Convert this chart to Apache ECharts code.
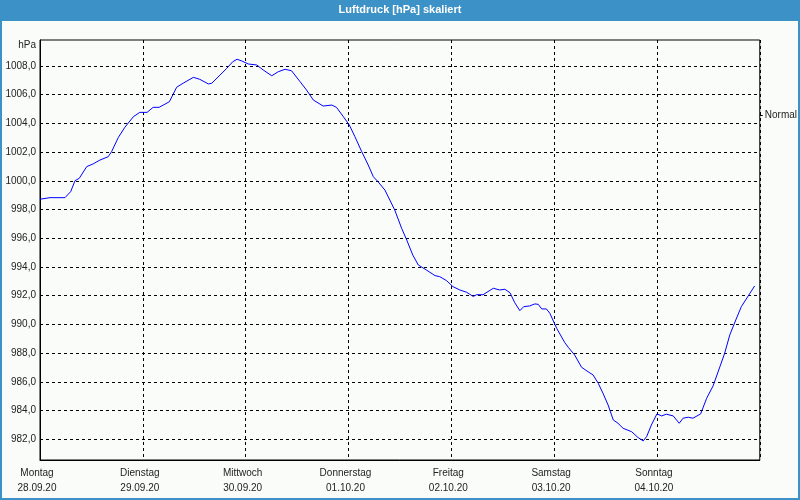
<!DOCTYPE html>
<html>
<head>
<meta charset="utf-8">
<script src="https://cdn.jsdelivr.net/npm/echarts@6/dist/echarts.min.js"></script>
<style>
html,body{margin:0;padding:0;background:#fafcfa;}
#chart{width:800px;height:500px;}
</style>
</head>
<body>
<div id="chart"></div>
<script>
// Time in hours since Montag 28.09.20 00:00
var hours = [0, 2.33, 5.83, 6.23, 7.16, 8.17, 9.17, 10.9, 12.4, 14.0, 15.9, 16.7, 18.3, 19.8, 21.8, 23.3,
  25.0, 26.4, 27.8, 30.2, 31.9, 33.4, 35.8, 37.3, 39.3, 40.1, 43.6, 45.0, 46.0, 47.1, 48.6, 50.6, 52.1, 54.1,
  55.6, 57.2, 58.7, 60.7, 62.2, 63.8, 66.1, 68.1, 69.2, 70.8, 72.2, 73.5, 75.1, 76.6, 77.8, 78.9, 80.5, 82.8,
  84.4, 85.6, 87.0, 88.3, 90.2, 92.2, 93.3, 94.9, 96.4, 98.0, 99.6, 101.1, 101.9, 103.4, 105.8, 107.3, 108.5,
  109.7, 110.8, 112.0, 112.9, 114.3, 115.5, 116.3, 117.1, 118.2, 119.0, 120.6, 122.5, 123.3, 124.8, 126.4,
  127.9, 129.1, 130.3, 131.4, 132.6, 133.8, 134.9, 136.1, 138.1, 139.6, 140.8, 141.6, 142.7, 144.0, 145.1,
  146.2, 147.8, 149.2, 150.1, 151.3, 152.4, 154.2, 155.6, 157.1, 158.7, 159.8, 161.0, 162.4, 163.7, 165.7, 166.8];
var pressure = [998.72, 998.83, 998.83, 998.79, 999.25, 1000.01, 1000.18, 1000.99, 1001.18, 1001.45, 1001.68, 1002.03, 1003.03, 1003.73, 1004.47, 1004.77,
  1004.77, 1005.12, 1005.12, 1005.51, 1006.52, 1006.80, 1007.21, 1007.07, 1006.75, 1006.80, 1007.84, 1008.30, 1008.47, 1008.35, 1008.14, 1008.07, 1007.72, 1007.32,
  1007.60, 1007.77, 1007.67, 1006.91, 1006.33, 1005.63, 1005.21, 1005.28, 1005.12, 1004.47, 1003.89, 1003.08, 1002.03, 1001.11, 1000.29, 999.94, 999.36, 997.97,
  996.70, 995.88, 994.84, 994.14, 993.79, 993.40, 993.33, 993.05, 992.63, 992.40, 992.24, 991.95, 992.07, 992.07, 992.52, 992.40, 992.45,
  992.21, 991.52, 990.96, 991.24, 991.29, 991.43, 991.40, 991.08, 991.08, 990.78, 989.73, 988.73, 988.41, 987.87, 987.02,
  986.71, 986.48, 985.90, 985.21, 984.39, 983.35, 983.12, 982.77, 982.53, 982.12, 981.89, 982.19, 983.00, 983.77, 983.63,
  983.75, 983.63, 983.12, 983.47, 983.54, 983.47, 983.77, 984.86, 985.72, 987.06, 987.99, 989.27, 990.31, 991.24, 992.17, 992.68];
var dayNames = ['Montag', 'Dienstag', 'Mittwoch', 'Donnerstag', 'Freitag', 'Samstag', 'Sonntag'];
var dayDates = ['28.09.20', '29.09.20', '30.09.20', '01.10.20', '02.10.20', '03.10.20', '04.10.20'];
var yTicks = [982, 984, 986, 988, 990, 992, 994, 996, 998, 1000, 1002, 1004, 1006, 1008];
var normalValue = [1004.59];
var normalLabel = 'Normal';
var titleText = 'Luftdruck [hPa] skaliert';
var unitText = 'hPa';

var font = 'Liberation Sans';
var chart = echarts.init(document.getElementById('chart'), null, {renderer: 'canvas'});
var seriesData = hours.map(function (h, i) { return [h, pressure[i]]; });

chart.setOption({
  backgroundColor: '#fafcfa',
  animation: false,
  grid: {left: 40, right: 40, top: 40, bottom: 40, show: true, borderColor: '#000', borderWidth: 1, backgroundColor: 'transparent'},
  graphic: [
    {type: 'rect', shape: {x: 0, y: 0, width: 800, height: 21}, style: {fill: '#3c91c6'}, z: 10},
    {type: 'rect', shape: {x: 1, y: 1, width: 798, height: 498}, style: {fill: 'none', stroke: '#3c91c6', lineWidth: 2}, z: 10},
    {type: 'text', x: 400, y: 10, style: {text: titleText, fill: '#fff', font: 'bold 11px "' + font + '"', align: 'center', verticalAlign: 'middle'}, z: 11},
    {type: 'text', x: 36, y: 45, style: {text: unitText, fill: '#222', font: '10px "' + font + '"', align: 'right', verticalAlign: 'middle'}, z: 11}
  ],
  xAxis: {
    type: 'value', min: 0, max: 168, interval: 24,
    axisLine: {show: true, lineStyle: {color: '#000', width: 1}},
    axisTick: {show: false},
    splitLine: {show: true, lineStyle: {color: '#000', width: 1, type: [3, 3]}},
    axisLabel: {
      margin: 6, fontFamily: font, fontSize: 10, color: '#222', lineHeight: 15,
      showMaxLabel: false, padding: [0, 6, 0, 0],
      formatter: function (v) {
        var i = Math.round(v / 24);
        if (i < 0 || i >= dayNames.length) return '';
        return dayNames[i] + '\n' + dayDates[i];
      }
    }
  },
  yAxis: [{
    type: 'value', min: 980.56, max: 1009.81,
    axisLine: {show: true, lineStyle: {color: '#000', width: 1}},
    axisTick: {show: false, customValues: yTicks},
    splitLine: {show: true, lineStyle: {color: '#000', width: 1, type: [3, 3]}},
    axisLabel: {
      customValues: yTicks, margin: 4, fontFamily: font, fontSize: 10, color: '#222',
      formatter: function (v) { return v.toFixed(1).replace('.', ','); }
    }
  }, {
    type: 'value', position: 'right', min: 980.56, max: 1009.81,
    axisLine: {show: false},
    axisTick: {show: true, customValues: normalValue, length: 3, lineStyle: {color: '#000'}},
    splitLine: {show: false},
    axisLabel: {customValues: normalValue, margin: 5, fontFamily: font, fontSize: 10, color: '#222',
      formatter: function () { return normalLabel; }}
  }],
  series: [{
    type: 'line', data: seriesData, yAxisIndex: 0, showSymbol: false, symbol: 'none',
    lineStyle: {color: '#0000ff', width: 1}, silent: true
  }]
});
</script>
</body>
</html>
